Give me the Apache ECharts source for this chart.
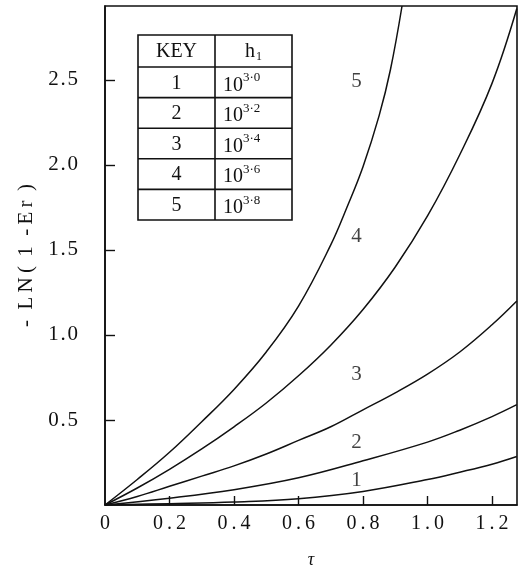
<!DOCTYPE html>
<html>
<head>
<meta charset="utf-8">
<script src="https://cdn.jsdelivr.net/npm/echarts@6/dist/echarts.min.js"></script>
<style>
  html, body { margin: 0; padding: 0; background: #fff; }
  #chart { width: 529px; height: 566px; }
</style>
</head>
<body>
<div id="chart"></div>
<script>
// Axis ticks
const tauTicks = [0, 0.2, 0.4, 0.6, 0.8, 1.0, 1.2];
const lnTicks = [0.5, 1.0, 1.5, 2.0, 2.5];

// Curves: -LN(1-Er) against tau, one per h1 value
const tau1 = [0, 0.2, 0.4, 0.6, 0.8, 1.0, 1.1, 1.2, 1.277];
const ln1  = [0, 0.008, 0.018, 0.037, 0.08, 0.15, 0.193, 0.24, 0.285];

const tau2 = [0, 0.2, 0.4, 0.6, 0.8, 1.0, 1.1, 1.2, 1.277];
const ln2  = [0, 0.04, 0.09, 0.16, 0.26, 0.37, 0.44, 0.52, 0.59];

const tau3 = [0, 0.1, 0.2, 0.3, 0.4, 0.5, 0.6, 0.7, 0.8, 0.9, 1.0, 1.1, 1.2, 1.277];
const ln3  = [0, 0.05, 0.11, 0.17, 0.23, 0.3, 0.38, 0.46, 0.56, 0.66, 0.77, 0.9, 1.06, 1.2];

const tau4 = [0, 0.1, 0.2, 0.3, 0.4, 0.5, 0.6, 0.7, 0.8, 0.9, 1.0, 1.1, 1.2, 1.277];
const ln4  = [0, 0.10, 0.21, 0.33, 0.46, 0.60, 0.76, 0.94, 1.15, 1.40, 1.70, 2.06, 2.48, 2.92];

const tau5 = [0, 0.1, 0.2, 0.3, 0.4, 0.5, 0.6, 0.7, 0.75, 0.8, 0.85, 0.885, 0.921];
const ln5  = [0, 0.15, 0.31, 0.49, 0.68, 0.90, 1.17, 1.53, 1.75, 1.99, 2.29, 2.56, 2.935];

// Curve number tags placed beside each curve
const tagNames = ['1', '2', '3', '4', '5'];
const tagTau = [0.78, 0.78, 0.78, 0.78, 0.78];
const tagLn  = [0.145, 0.37, 0.77, 1.58, 2.49];

// Key table contents
const keyIds = ['1', '2', '3', '4', '5'];
const keyExponents = ['3\u00b70', '3\u00b72', '3\u00b74', '3\u00b76', '3\u00b78'];

const serif = '"Liberation Serif", "DejaVu Serif", serif';
const ink = '#111';

function pairs(xs, ys) { return xs.map((x, i) => [x, ys[i]]); }

function curve(name, xs, ys) {
  return {
    name: name,
    type: 'line',
    data: pairs(xs, ys),
    smooth: 0.4,
    showSymbol: false,
    symbol: 'none',
    clip: true,
    lineStyle: { color: ink, width: 1.5 },
    silent: true
  };
}

function spaced(s, sep) { return s.split('').join(sep); }

// Key table drawn as graphic elements
const tbl = { x: 138, y: 35, w: 154, c1: 77, head: 32, row: 30.6 };
const tableEls = [];
const tblH = tbl.head + tbl.row * keyIds.length;
tableEls.push({
  type: 'rect',
  shape: { x: tbl.x, y: tbl.y, width: tbl.w, height: tblH },
  style: { fill: '#fff', stroke: ink, lineWidth: 1.6 }
});
tableEls.push({
  type: 'line',
  shape: { x1: tbl.x + tbl.c1, y1: tbl.y, x2: tbl.x + tbl.c1, y2: tbl.y + tblH },
  style: { stroke: ink, lineWidth: 1.6 }
});
for (let i = 0; i < keyIds.length; i++) {
  const yy = tbl.y + tbl.head + tbl.row * i;
  tableEls.push({
    type: 'line',
    shape: { x1: tbl.x, y1: yy, x2: tbl.x + tbl.w, y2: yy },
    style: { stroke: ink, lineWidth: 1.6 }
  });
  tableEls.push({
    type: 'text',
    x: tbl.x + tbl.c1 / 2, y: yy + tbl.row / 2 + 1,
    style: { text: keyIds[i], font: '20px ' + serif, fill: ink, align: 'center', verticalAlign: 'middle' }
  });
  tableEls.push({
    type: 'text',
    x: tbl.x + tbl.c1 + 8, y: yy + tbl.row / 2 + 1,
    style: {
      text: '{b|10}{s|' + keyExponents[i] + '}',
      align: 'left', verticalAlign: 'middle',
      rich: {
        b: { font: '20px ' + serif, fill: ink, verticalAlign: 'bottom', lineHeight: 24 },
        s: { font: '13px ' + serif, fill: ink, verticalAlign: 'top', lineHeight: 24, padding: [0, 0, 10, 0] }
      }
    }
  });
}
tableEls.push({
  type: 'text',
  x: tbl.x + tbl.c1 / 2, y: tbl.y + tbl.head / 2 + 1,
  style: { text: 'KEY', font: '20px ' + serif, fill: ink, align: 'center', verticalAlign: 'middle' }
});
tableEls.push({
  type: 'text',
  x: tbl.x + tbl.c1 + (tbl.w - tbl.c1) / 2, y: tbl.y + tbl.head / 2 + 1,
  style: {
    text: '{b|h}{u|1}',
    align: 'center', verticalAlign: 'middle',
    rich: {
      b: { font: '20px ' + serif, fill: ink, lineHeight: 24 },
      u: { font: '12px ' + serif, fill: ink, lineHeight: 24, padding: [10, 0, 0, 1] }
    }
  }
});

const chart = echarts.init(document.getElementById('chart'), null, { renderer: 'canvas' });
chart.setOption({
  backgroundColor: '#fff',
  animation: false,
  grid: {
    left: 105, right: 12, top: 6, bottom: 61,
    outerBoundsMode: 'none',
    containLabel: false,
    show: true, borderColor: ink, borderWidth: 1.6, backgroundColor: 'transparent'
  },
  xAxis: {
    type: 'value',
    min: 0, max: 1.2775,
    name: '\u03c4',
    nameLocation: 'middle',
    nameGap: 46,
    nameTextStyle: { fontFamily: serif, fontSize: 18, color: ink, fontStyle: 'italic' },
    axisLine: { show: true, onZero: false, lineStyle: { color: ink, width: 1.6 } },
    axisTick: { show: true, inside: true, length: 9, lineStyle: { color: ink, width: 1.4 },
      customValues: tauTicks.filter(v => v > 0) },
    axisLabel: {
      show: true, margin: 9, fontFamily: serif, fontSize: 20, color: ink,
      customValues: tauTicks,
      formatter: v => v === 0 ? '0' : spaced(v.toFixed(1), '\u2009')
    },
    splitLine: { show: false }
  },
  yAxis: {
    type: 'value',
    min: 0, max: 2.935,
    name: '-  L\u2009N\u2009(\u2009 1  -\u2009E\u2009r\u2009 )',
    nameLocation: 'middle',
    nameGap: 64,
    nameRotate: 90,
    nameTextStyle: { fontFamily: serif, fontSize: 21, color: ink, padding: [0, 0, 0, 0] },
    axisLine: { show: true, onZero: false, lineStyle: { color: ink, width: 1.6 } },
    axisTick: { show: true, inside: true, length: 10, lineStyle: { color: ink, width: 1.4 },
      customValues: lnTicks },
    axisLabel: {
      show: true, margin: 27, fontFamily: serif, fontSize: 21, color: ink,
      customValues: lnTicks,
      formatter: v => spaced(v.toFixed(1), '\u200a')
    },
    splitLine: { show: false }
  },
  graphic: tableEls,
  series: [
    curve('1', tau1, ln1),
    curve('2', tau2, ln2),
    curve('3', tau3, ln3),
    curve('4', tau4, ln4),
    curve('5', tau5, ln5),
    {
      name: 'tags',
      type: 'scatter',
      symbolSize: 1,
      itemStyle: { color: 'transparent' },
      silent: true,
      data: tagNames.map((n, i) => ({ value: [tagTau[i], tagLn[i]], name: n })),
      label: {
        show: true, position: 'inside', formatter: p => p.name,
        fontFamily: serif, fontSize: 21, color: ink
      }
    }
  ]
});
</script>
</body>
</html>
